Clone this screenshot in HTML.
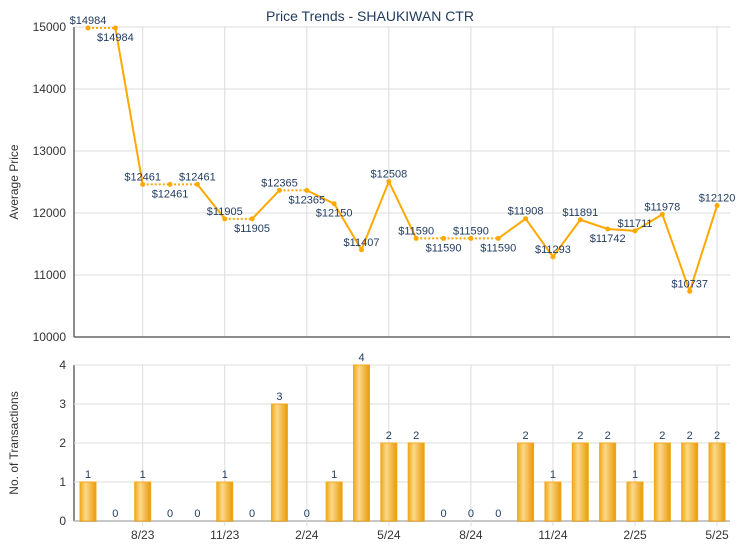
<!DOCTYPE html>
<html><head><meta charset="utf-8">
<style>
body{margin:0;background:#fff;font-family:"Liberation Sans",Arial,sans-serif;}
svg text{font-family:"Liberation Sans",Arial,sans-serif;}
</style></head>
<body>
<svg id="c" width="740" height="550" viewBox="0 0 740 550" xmlns="http://www.w3.org/2000/svg">
<defs>
<linearGradient id="bg" x1="0" x2="1" y1="0" y2="0">
<stop offset="0" stop-color="#f0a818"/><stop offset="0.35" stop-color="#fcd98a"/><stop offset="1" stop-color="#e89a08"/>
</linearGradient>
</defs>
<text x="370" y="21" text-anchor="middle" font-size="14" fill="#1f3a5f">Price Trends - SHAUKIWAN CTR</text>
<g id="topg"></g><g id="botg"></g>
</svg>
<script>
const months=["6/23","7/23","8/23","9/23","10/23","11/23","12/23","1/24","2/24","3/24","4/24","5/24","6/24","7/24","8/24","9/24","10/24","11/24","12/24","1/25","2/25","3/25","4/25","5/25"];
const prices=[14984,14984,12461,12461,12461,11905,11905,12365,12365,12150,11407,12508,11590,11590,11590,11590,11908,11293,11891,11742,11711,11978,10737,12120];
const counts=[1,0,1,0,0,1,0,3,0,1,4,2,2,0,0,0,2,1,2,2,1,2,2,2];
const priceTicks=[10000,11000,12000,13000,14000,15000];
const countTicks=[0,1,2,3,4];
const xLabels=["8/23","11/23","2/24","5/24","8/24","11/24","2/25","5/25"];
const labelPos=[-1,1,-1,1,-1,-1,1,-1,1,1,-1,-1,-1,1,-1,1,-1,-1,-1,1,-1,-1,-1,-1];

const NS="http://www.w3.org/2000/svg";
const L=74,R=730,T1=27,B1=337,T2=365,B2=521;
const x=i=>88+i*27.35;
const yP=v=>B1-(v-10000)/5000*(B1-T1);
const yC=v=>B2-v/4*(B2-T2);
function mk(tag,at,parent,txt){const e=document.createElementNS(NS,tag);for(const k in at)e.setAttribute(k,at[k]);if(txt!==undefined)e.textContent=txt;parent.appendChild(e);return e;}
const gTop=document.getElementById('topg'),gBot=document.getElementById('botg');

priceTicks.forEach(t=>{
 const g=mk('line',{x1:L,x2:R,y1:yP(t),y2:yP(t),stroke:'#dcdcdc','stroke-width':1},gTop);
 
 
 const tx=mk('text',{x:L-8,y:yP(t)+4,'text-anchor':'end','font-size':12,fill:'#333'},gTop,t);
 
 
});
countTicks.forEach(t=>{
 const g=mk('line',{x1:L,x2:R,y1:yC(t),y2:yC(t),stroke:'#dcdcdc','stroke-width':1},gBot);
 
 
 const tx=mk('text',{x:L-8,y:yC(t)+4,'text-anchor':'end','font-size':12,fill:'#333'},gBot,t);
 
 
});
xLabels.forEach(lb=>{
 const i=months.indexOf(lb);
 const v1=mk('line',{x1:x(i),x2:x(i),y1:T1,y2:B1,stroke:'#dcdcdc'},gTop);
 
 
 const v2=mk('line',{x1:x(i),x2:x(i),y1:T2,y2:B2+5,stroke:'#dcdcdc'},gBot);
 
 
 const tx=mk('text',{x:x(i),y:539,'text-anchor':'middle','font-size':12,fill:'#333'},gBot,lb);
 
 
});
[[L,T1,L,B1],[L,B1,R,B1],[L,T2,L,B2],[L,B2,R,B2]].forEach(a=>{
 const l=mk('line',{x1:a[0],y1:a[1],x2:a[2],y2:a[3],stroke:'#666','stroke-width':1.5},gTop);
 
 
});
const yt1=mk('text',{x:0,y:0,transform:`translate(18,${(T1+B1)/2}) rotate(-90)`,'text-anchor':'middle','font-size':12,fill:'#333'},gTop,'Average Price');


const yt2=mk('text',{x:0,y:0,transform:`translate(18,${(T2+B2)/2}) rotate(-90)`,'text-anchor':'middle','font-size':12,fill:'#333'},gBot,'No. of Transactions');



for(let i=0;i<prices.length-1;i++){
 const eq=prices[i]===prices[i+1];
 const s=mk('line',{x1:x(i),y1:yP(prices[i]),x2:x(i+1),y2:yP(prices[i+1]),stroke:'#ffa800','stroke-width':2,'stroke-dasharray':eq?'2,2':'none'},gTop);
 
 
}
prices.forEach((p,i)=>{
 const c=mk('circle',{cx:x(i),cy:yP(p),r:2.5,fill:'#ffa800'},gTop);
 
 
 const t=mk('text',{x:x(i),y:yP(p)+(labelPos[i]<0?-4:13),'text-anchor':'middle','font-size':11,fill:'#1f3a5f'},gTop,'$'+p);
 
 
});
counts.forEach((c,i)=>{
 if(c>0){
  const b=mk('rect',{x:x(i)-8,y:yC(c),width:16,height:yC(0)-yC(c),fill:'url(#bg)',stroke:'#f0a818','stroke-width':1},gBot);
  
  
 }
 const t=mk('text',{x:x(i),y:(c>0?yC(c)-4:yC(0)-4),'text-anchor':'middle','font-size':11,fill:'#1f3a5f'},gBot,c);
 
 
});
</script>
</body></html>
